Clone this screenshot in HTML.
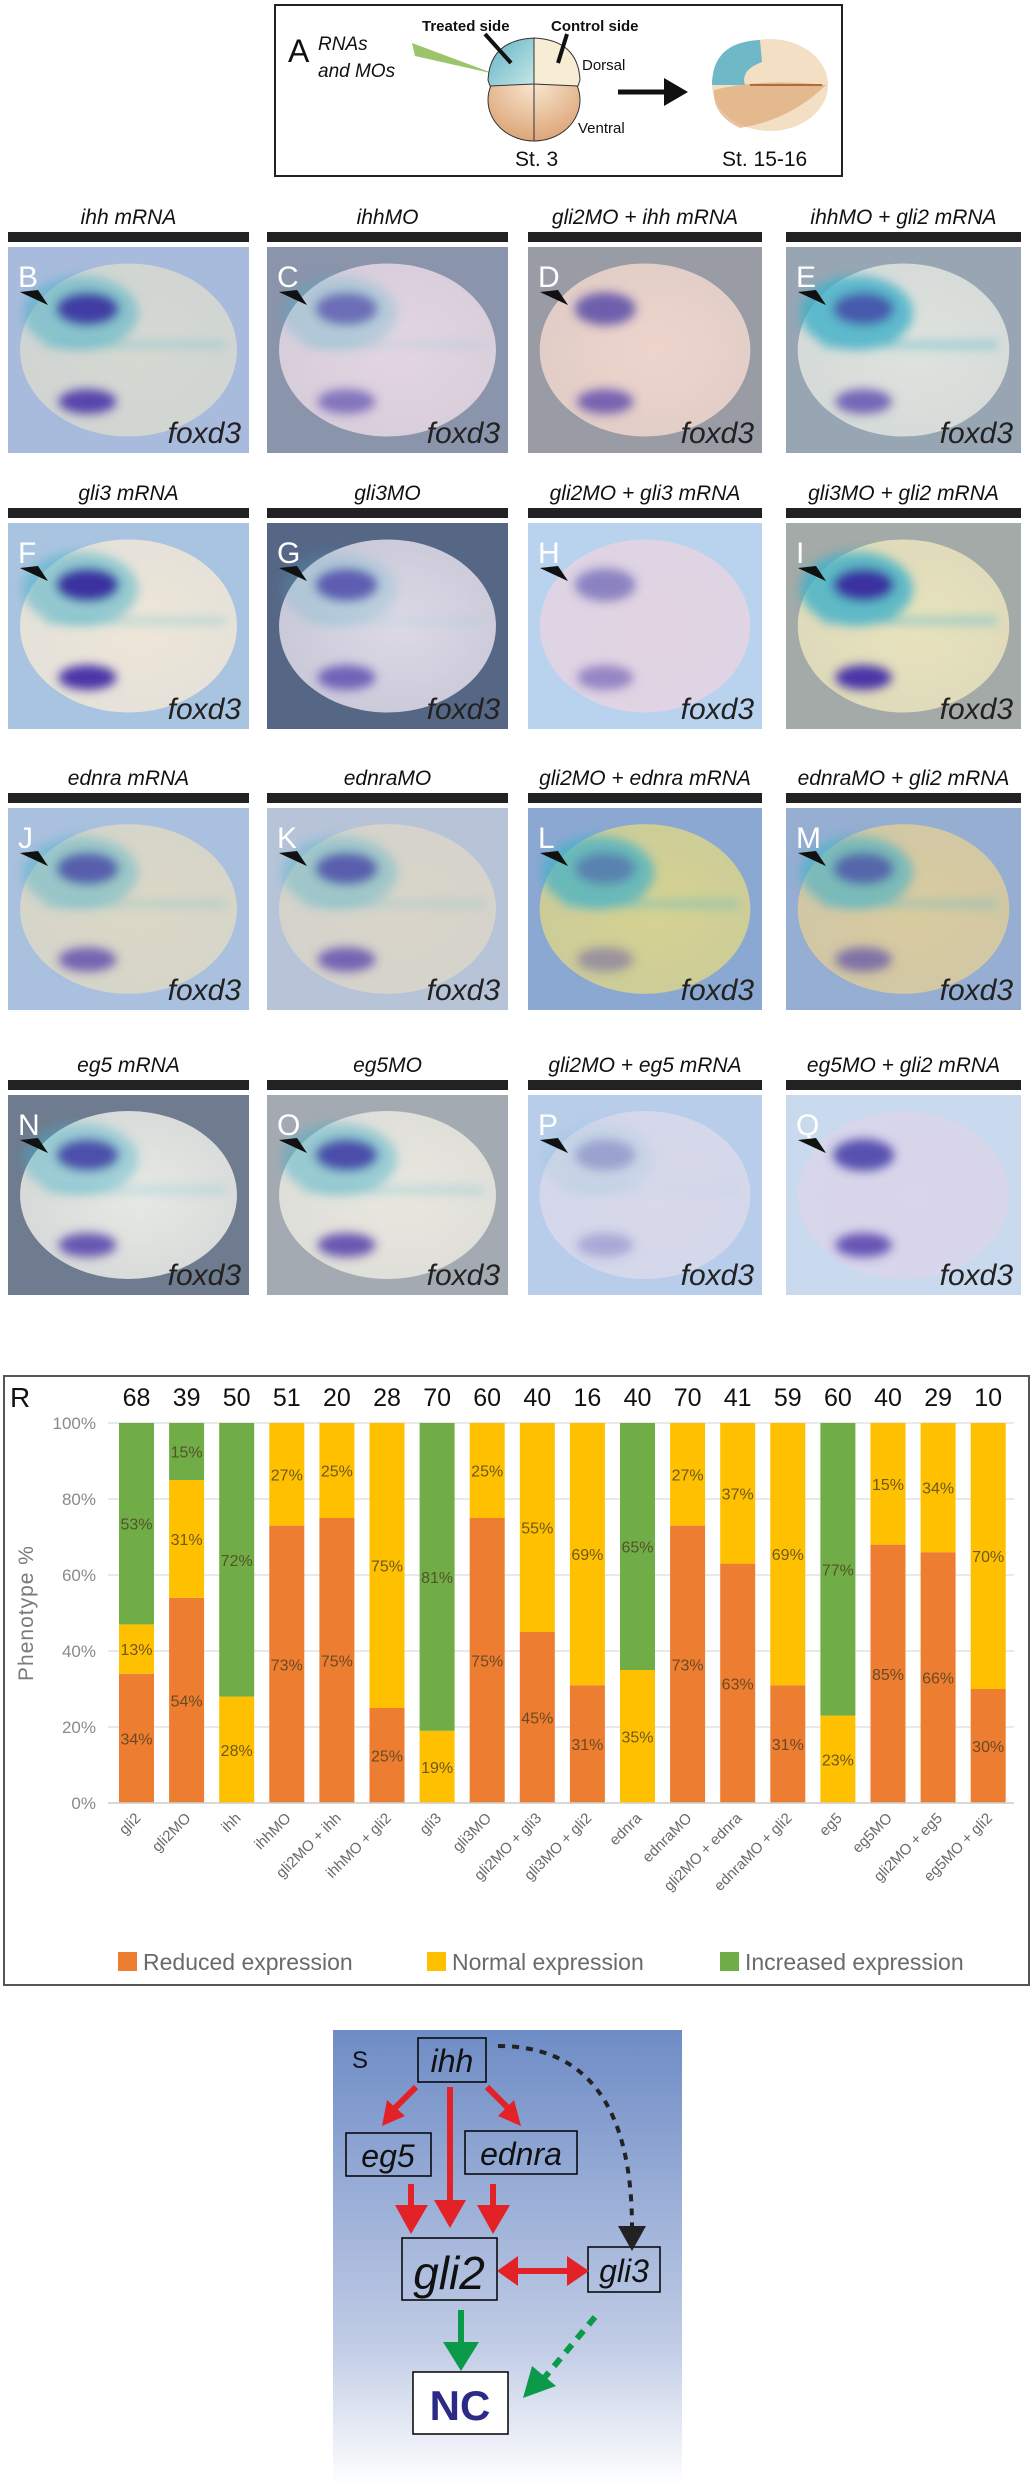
<!DOCTYPE html>
<html><head><meta charset="utf-8">
<style>
body{margin:0;background:#fff;width:1034px;height:2486px;position:relative;overflow:hidden;font-family:"Liberation Sans",sans-serif}
.abs{position:absolute}
.ttl{position:absolute;text-align:center;font-family:"Liberation Sans Narrow","Liberation Sans",sans-serif;font-style:italic;font-size:21px;color:#111;white-space:nowrap}
.tbar{position:absolute;height:10px;background:#222}
.panel{position:absolute;overflow:hidden}
</style></head>
<body>
<!-- Panel A -->
<svg class="abs" style="left:0;top:0" width="1034" height="190">
<defs>
<linearGradient id="teal" x1="0" y1="0" x2="1" y2="1"><stop offset="0" stop-color="#5fb3c4"/><stop offset="1" stop-color="#c8e6e6"/></linearGradient>
<radialGradient id="tan" cx="0.5" cy="0.3" r="0.8"><stop offset="0" stop-color="#f8e7d0"/><stop offset="1" stop-color="#d99c6c"/></radialGradient>
</defs>
<rect x="275" y="5" width="567" height="171" fill="#fff" stroke="#222" stroke-width="2"/>
<text x="288" y="62" font-size="32" fill="#111">A</text>
<text x="318" y="50" font-size="19" font-style="italic" font-family="Liberation Sans Narrow, Liberation Sans, sans-serif" fill="#111">RNAs</text>
<text x="318" y="77" font-size="19" font-style="italic" font-family="Liberation Sans Narrow, Liberation Sans, sans-serif" fill="#111">and MOs</text>
<polygon points="412,43 415,56 495,74" fill="#9cc46a"/>
<text x="422" y="31" font-size="15" font-weight="bold" font-family="Liberation Sans Narrow, Liberation Sans, sans-serif" fill="#111">Treated side</text>
<text x="551" y="31" font-size="15" font-weight="bold" font-family="Liberation Sans Narrow, Liberation Sans, sans-serif" fill="#111">Control side</text>
<ellipse cx="534" cy="100" rx="46" ry="41" fill="url(#tan)" stroke="#333"/>
<path d="M488,80 Q490,40 534,38 L534,84 L490,86Z" fill="url(#teal)" stroke="#333"/>
<path d="M580,80 Q578,40 534,38 L534,84 L578,86Z" fill="#f7edd4" stroke="#333"/>
<line x1="534" y1="84" x2="534" y2="141" stroke="#333"/>
<line x1="485" y1="34" x2="511" y2="63" stroke="#111" stroke-width="4"/>
<line x1="567" y1="34" x2="558" y2="63" stroke="#111" stroke-width="4"/>
<text x="582" y="70" font-size="15" font-family="Liberation Sans Narrow, Liberation Sans, sans-serif" fill="#111">Dorsal</text>
<text x="578" y="133" font-size="15" font-family="Liberation Sans Narrow, Liberation Sans, sans-serif" fill="#111">Ventral</text>
<text x="515" y="166" font-size="21" font-family="Liberation Sans Narrow, Liberation Sans, sans-serif" fill="#111">St. 3</text>
<line x1="618" y1="92" x2="668" y2="92" stroke="#111" stroke-width="5"/>
<polygon points="664,78 688,92 664,106" fill="#111"/>
<ellipse cx="770" cy="85" rx="58" ry="46" fill="#f2dfc4"/>
<path d="M712,85 Q712,42 760,40 L762,62 Q740,70 745,85Z" fill="#6fb8c7"/>
<path d="M714,90 Q760,78 826,85 Q790,120 740,128 Q712,115 714,90Z" fill="#e0a878" opacity="0.7"/>
<line x1="750" y1="85" x2="822" y2="85" stroke="#b06a40" stroke-width="2"/>
<text x="722" y="166" font-size="21" font-family="Liberation Sans Narrow, Liberation Sans, sans-serif" fill="#111">St. 15-16</text>
</svg>

<div id="panels"></div>

<!-- Chart R -->
<div class="abs" style="left:3px;top:1375px;width:1023px;height:607px;border:2px solid #555"></div>
<svg id="chart" class="abs" style="left:0;top:1375px" width="1034" height="612"></svg>

<!-- Diagram S -->
<svg class="abs" style="left:0;top:2020px" width="1034" height="466">
<defs>
<linearGradient id="sbg" x1="0" y1="0" x2="0" y2="1"><stop offset="0" stop-color="#6e8cc6"/><stop offset="0.7" stop-color="#c2cde6"/><stop offset="1" stop-color="#ffffff"/></linearGradient>
</defs>
<g transform="translate(0,-2020)">
<rect x="333" y="2030" width="349" height="456" fill="url(#sbg)"/>
<text x="352" y="2068" font-size="24" fill="#111">S</text>
<g fill="none" stroke="#000" stroke-width="1.5">
<rect x="418" y="2038" width="68" height="44"/>
<rect x="346" y="2133" width="85" height="43"/>
<rect x="465" y="2131" width="112" height="43"/>
<rect x="402" y="2238" width="95" height="62"/>
<rect x="588" y="2247" width="72" height="45"/>
</g>
<rect x="413" y="2372" width="95" height="62" fill="#fff" stroke="#000" stroke-width="1.5"/>
<g font-style="italic" fill="#111" text-anchor="middle">
<text x="452" y="2072" font-size="32">ihh</text>
<text x="388" y="2167" font-size="32">eg5</text>
<text x="521" y="2165" font-size="32">ednra</text>
<text x="449" y="2289" font-size="46">gli2</text>
<text x="624" y="2282" font-size="32">gli3</text>
</g>
<text x="460" y="2420" font-size="42" font-weight="bold" fill="#2b2a85" text-anchor="middle">NC</text>
<g stroke="#e32228" stroke-width="6" fill="#e32228">
<line x1="416" y1="2087" x2="394" y2="2109"/><polygon points="382,2126 387,2100 405,2116" stroke="none"/>
<line x1="487" y1="2087" x2="509" y2="2109"/><polygon points="521,2126 498,2116 514,2100" stroke="none"/>
<line x1="450" y1="2087" x2="450" y2="2203"/><polygon points="434,2200 466,2200 450,2228" stroke="none"/>
<line x1="411" y1="2184" x2="411" y2="2207"/><polygon points="395,2205 428,2205 411,2234" stroke="none"/>
<line x1="493" y1="2184" x2="493" y2="2207"/><polygon points="477,2205 510,2205 493,2234" stroke="none"/>
<line x1="515" y1="2271" x2="570" y2="2271"/><polygon points="497,2271 518,2256 518,2286" stroke="none"/><polygon points="589,2271 567,2256 567,2286" stroke="none"/>
</g>
<path d="M498,2046 Q632,2046 632,2228" fill="none" stroke="#222" stroke-width="4" stroke-dasharray="7,7"/>
<polygon points="618,2226 646,2226 632,2251" fill="#222"/>
<g stroke="#0a9a4a" stroke-width="6" fill="#0a9a4a">
<line x1="461" y1="2310" x2="461" y2="2345"/><polygon points="443,2342 479,2342 461,2371" stroke="none"/>
<line x1="595" y1="2317" x2="545" y2="2377" stroke-dasharray="10,8"/><polygon points="523,2398 532,2366 556,2386" stroke="none"/>
</g>
</g>
</svg>

<script>
// ===== Embryo panels =====
var rowTitles = [
 ["ihh mRNA","ihhMO","gli2MO + ihh mRNA","ihhMO + gli2 mRNA"],
 ["gli3 mRNA","gli3MO","gli2MO + gli3 mRNA","gli3MO + gli2 mRNA"],
 ["ednra mRNA","ednraMO","gli2MO + ednra mRNA","ednraMO + gli2 mRNA"],
 ["eg5 mRNA","eg5MO","gli2MO + eg5 mRNA","eg5MO + gli2 mRNA"]];
var letters = [["B","C","D","E"],["F","G","H","I"],["J","K","L","M"],["N","O","P","Q"]];
var bgs = [["#a9bbdc","#8a94ab","#9a9ca5","#98a6b4"],["#a9c4e0","#566786","#b9d2ee","#a3aaa8"],["#a9c0de","#b7c4d8","#8aa8d2","#95aed2"],["#6f7b8e","#a4aab2","#b8cdea","#c9d9ee"]];
var embs = [["#d6d9d1","#e4d6e2","#edd5cc","#dfe3de"],["#eee6d8","#ddd9e6","#e3d4e2","#e8e2bd"],["#dcd8c6","#d9d5c9","#d6d290","#dacb9e"],["#e7e9e4","#e8e7df","#d8d9ea","#d9d5ea"]];
var teal = [[0.5,0.25,0,0.8],[0.5,0.2,0,0.8],[0.4,0.35,0.7,0.6],[0.4,0.45,0.1,0]];
var blob = [[0.9,0.6,0.7,0.7],[1,0.7,0.5,1],[0.7,0.7,0.4,0.6],[0.8,0.8,0.3,0.8]];
var colX = [8,267,528,786], colW = [241,241,234,235];
var rowY = [247,523,808,1095], rowH = [206,206,202,200];
var host = document.getElementById('panels');
var html = '';
for (var r=0;r<4;r++){
  for (var c=0;c<4;c++){
    var x=colX[c], y=rowY[r], w=colW[c], h=rowH[r];
    html += '<div class="ttl" style="left:'+x+'px;top:'+(y-41)+'px;width:'+w+'px">'+rowTitles[r][c]+'</div>';
    html += '<div class="tbar" style="left:'+x+'px;top:'+(y-15)+'px;width:'+w+'px"></div>';
    var t=teal[r][c], b=blob[r][c];
    var s='<svg width="'+w+'" height="'+h+'"><defs><filter id="bl'+r+c+'"><feGaussianBlur stdDeviation="5"/></filter>'+
      '<radialGradient id="eg'+r+c+'" cx="0.55" cy="0.5" r="0.6"><stop offset="0" stop-color="'+embs[r][c]+'"/><stop offset="1" stop-color="'+embs[r][c]+'" stop-opacity="0.85"/></radialGradient></defs>'+
      '<rect width="'+w+'" height="'+h+'" fill="'+bgs[r][c]+'"/>'+
      '<ellipse cx="'+(w*0.5)+'" cy="'+(h*0.5)+'" rx="'+(w*0.45)+'" ry="'+(h*0.42)+'" fill="url(#eg'+r+c+')"/>'+
      '<g filter="url(#bl'+r+c+')">'+
      '<ellipse cx="'+(w*0.3)+'" cy="'+(h*0.32)+'" rx="'+(w*0.24)+'" ry="'+(h*0.18)+'" fill="#40b0c8" opacity="'+t+'"/>'+
      '<rect x="'+(w*0.15)+'" y="'+(h*0.46)+'" width="'+(w*0.75)+'" height="6" fill="#5ab8c8" opacity="'+(t*0.8)+'"/>'+
      '<ellipse cx="'+(w*0.33)+'" cy="'+(h*0.3)+'" rx="'+(w*0.13)+'" ry="'+(h*0.08)+'" fill="#3a30a0" opacity="'+b+'"/>'+
      '<ellipse cx="'+(w*0.33)+'" cy="'+(h*0.75)+'" rx="'+(w*0.12)+'" ry="'+(h*0.06)+'" fill="#4a35a8" opacity="'+b+'"/>'+
      '</g>'+
      '<text x="10" y="40" font-size="30" fill="#fff">'+letters[r][c]+'</text>'+
      '<polygon points="12,45 40,58 30,43" fill="#111"/><polygon points="12,45 40,58 28,50" fill="#111"/>'+
      '<text x="'+(w-8)+'" y="'+(h-10)+'" font-size="30" font-style="italic" text-anchor="end" fill="#222">foxd3</text></svg>';
    html += '<div class="panel" style="left:'+x+'px;top:'+y+'px;width:'+w+'px;height:'+h+'px">'+s+'</div>';
  }
}
host.innerHTML = html;

// ===== Chart R data =====
var categories = ["gli2","gli2MO","ihh","ihhMO","gli2MO + ihh","ihhMO + gli2","gli3","gli3MO","gli2MO + gli3","gli3MO + gli2","ednra","ednraMO","gli2MO + ednra","ednraMO + gli2","eg5","eg5MO","gli2MO + eg5","eg5MO + gli2"];
var nCounts = [68,39,50,51,20,28,70,60,40,16,40,70,41,59,60,40,29,10];
var reduced = [34,54,0,73,75,25,0,75,45,31,0,73,63,31,0,68,66,30];
var normal = [13,31,28,27,25,75,19,25,55,69,35,27,37,69,23,32,34,70];
var increased = [53,15,72,0,0,0,81,0,0,0,65,0,0,0,77,0,0,0];
var reducedLabels = ["34%","54%","","73%","75%","25%","","75%","45%","31%","","73%","63%","31%","","85%","66%","30%"];
var normalLabels = ["13%","31%","28%","27%","25%","75%","19%","25%","55%","69%","35%","27%","37%","69%","23%","15%","34%","70%"];
var increasedLabels = ["53%","15%","72%","","","","81%","","","","65%","","","","77%","","",""];
var yTicks = [0,20,40,60,80,100];
var yTickLabels = ["0%","20%","40%","60%","80%","100%"];

var NS='http://www.w3.org/2000/svg';
var svg=document.getElementById('chart');
var plotTop=48, plotBot=428, x0=119, pitch=50.1, bw=35;
function yS(v){return plotBot-(plotBot-plotTop)*v/100;}
function xS(i){return x0+i*pitch;}
function el(tag,attrs,txt){var e=document.createElementNS(NS,tag);for(var k in attrs)e.setAttribute(k,attrs[k]);if(txt!==undefined)e.textContent=txt;svg.appendChild(e);return e;}

var rl=el('text',{x:10,y:32,'font-size':28,fill:'#111'},'R');


yTicks.forEach(function(v,i){
  var g=el('line',{x1:108,x2:1014,y1:yS(v),y2:yS(v),stroke:'#e2e2e2','stroke-width':1.5});
  
  
  var t=el('text',{x:96,y:yS(v)+6,'font-size':17,'text-anchor':'end',fill:'#8a8a8a'},yTickLabels[i]);
  
  
});
var yt=el('text',{x:0,y:0,'font-size':21,'text-anchor':'middle',fill:'#7a7a7a',transform:'translate(33,'+((plotTop+plotBot)/2)+') rotate(-90)','letter-spacing':'1'},'Phenotype %');



var series=[[reduced,'#ed7d31',reducedLabels],[normal,'#ffc000',normalLabels],[increased,'#70ad47',increasedLabels]];
categories.forEach(function(cat,i){
  var base=0;
  series.forEach(function(s){
    var v=s[0][i];
    if(v>0){
      var rc=el('rect',{x:xS(i),y:yS(base+v),width:bw,height:yS(base)-yS(base+v),fill:s[1]});
      
      
      if(s[2][i]){
        var lt=el('text',{x:xS(i)+bw/2,y:yS(base+v/2)+6,'font-size':16,'text-anchor':'middle',fill:'#4a3d20','fill-opacity':0.8,'font-family':'Liberation Sans Narrow, Liberation Sans, sans-serif'},s[2][i]);
        
        
      }
    }
    base+=v;
  });
  var nt=el('text',{x:xS(i)+bw/2,y:31,'font-size':25,'text-anchor':'middle',fill:'#111'},String(nCounts[i]));
  
  
  var cx=xS(i)+bw/2+5, cy=plotBot+16;
  var xl=el('text',{x:cx,y:cy,'font-size':15,'text-anchor':'end',fill:'#6a6a6a',transform:'rotate(-45 '+cx+' '+cy+')'},cat);
  
  
});
var ax=el('line',{x1:108,x2:1014,y1:plotBot,y2:plotBot,stroke:'#d0d0d0','stroke-width':1.5});



var legend=[["Reduced expression",'#ed7d31',118],["Normal expression",'#ffc000',427],["Increased expression",'#70ad47',720]];
legend.forEach(function(l){
  var sq=el('rect',{x:l[2],y:577,width:19,height:19,fill:l[1]});
  
  
  var lt=el('text',{x:l[2]+25,y:595,'font-size':23,fill:'#6a6a6a'},l[0]);
  
  
});
</script>
</body></html>
